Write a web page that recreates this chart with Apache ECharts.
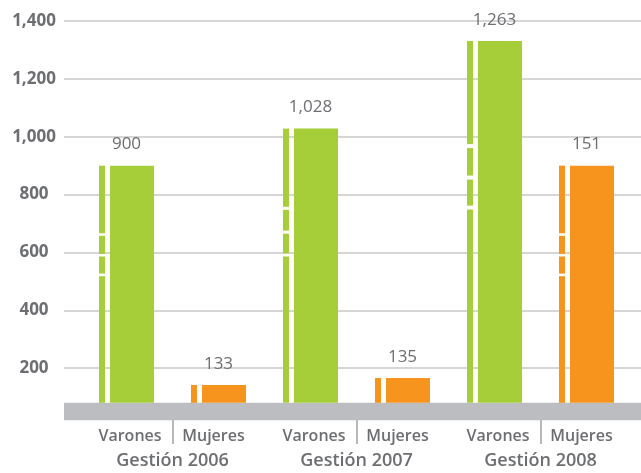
<!DOCTYPE html>
<html>
<head>
<meta charset="utf-8">
<script src="https://cdn.jsdelivr.net/npm/echarts@6/dist/echarts.min.js"></script>
<style>
  html, body { margin: 0; padding: 0; background: #fff; }
  #chart { width: 641px; height: 473px; }
</style>
</head>
<body>
<div id="chart"></div>
<script>
// categories
var sexos = ['Varones', 'Mujeres', 'Varones', 'Mujeres', 'Varones', 'Mujeres'];
var gestiones = ['Gestión 2006', 'Gestión 2007', 'Gestión 2008'];
// bar heights as drawn on the scale
var alturas = [900, 142, 1028, 166, 1331, 900];
// numbers printed above the bars
var etiquetas = ['900', '133', '1,028', '135', '1,263', '151'];
// y ticks
var yMin = 0, yMax = 1400, yStep = 200;
// grey base band (y values)
var banda = [20, 80];

var verde = '#a6ce39', naranja = '#f7941e', gris = '#6d6e71';
var fuente = '"Open Sans", "Liberation Sans", sans-serif';

var datos = alturas.map(function (v, i) {
  return [i, v, i % 2];
});

var chart = echarts.init(document.getElementById('chart'));

function dibujarBarra(params, api) {
  var idx = api.value(0);
  var top = api.coord([idx, api.value(1)]);
  var base = api.coord([idx, banda[1]]);
  var cx = top[0];
  var color = api.value(2) === 0 ? verde : naranja;
  var h = base[1] - top[1];
  var hijos = [];
  // main bar
  hijos.push({
    type: 'rect',
    shape: { x: cx - 16.5, y: top[1], width: 44, height: h },
    style: { fill: color }
  });
  // thin strip on the left, broken by small white gaps on tall bars
  var cortes = h > 100 ? [0.285, 0.372, 0.455] : [];
  var hueco = Math.max(2, h * 0.011);
  var y0 = top[1];
  cortes.forEach(function (f) {
    var yc = top[1] + h * f;
    hijos.push({
      type: 'rect',
      shape: { x: cx - 27.5, y: y0, width: 6, height: yc - y0 },
      style: { fill: color }
    });
    y0 = yc + hueco;
  });
  hijos.push({
    type: 'rect',
    shape: { x: cx - 27.5, y: y0, width: 6, height: base[1] - y0 },
    style: { fill: color }
  });
  // value label
  hijos.push({
    type: 'text',
    x: cx,
    y: top[1] - 21,
    style: {
      text: etiquetas[idx],
      fill: gris,
      font: '500 17px ' + fuente,
      align: 'center',
      verticalAlign: 'middle'
    }
  });
  return { type: 'group', children: hijos };
}

var option = {
  animation: false,
  backgroundColor: '#fff',
  grid: [
    { left: 64, right: 0, top: 21, bottom: 47 },
    { left: 80.5, right: 8.5, top: 21, bottom: 47 }
  ],
  xAxis: [
    { gridIndex: 0, type: 'value', min: 0, max: 1, show: false },
    {
      gridIndex: 1,
      type: 'category',
      data: sexos,
      position: 'bottom',
      axisLine: { show: false },
      axisTick: { show: false },
      axisLabel: {
        margin: 2,
        interval: 0,
        formatter: function (v) {
          return v === 'Varones' ? '{v|' + v + '}' : '{m|' + v + '}';
        },
        rich: {
          v: { color: gris, fontSize: 16, fontWeight: 600, fontFamily: fuente, padding: [0, 0, 0, 7] },
          m: { color: gris, fontSize: 16, fontWeight: 600, fontFamily: fuente, padding: [0, 10, 0, 0] }
        }
      }
    },
    {
      gridIndex: 1,
      type: 'category',
      data: gestiones,
      position: 'bottom',
      offset: -6,
      axisLine: { show: false },
      axisTick: {
        show: true,
        alignWithLabel: true,
        length: 24,
        lineStyle: { color: '#b8b9bb', width: 2 }
      },
      axisLabel: {
        margin: 32,
        color: gris,
        fontSize: 18,
        fontWeight: 600,
        fontFamily: fuente
      }
    }
  ],
  yAxis: [
    {
      gridIndex: 0,
      type: 'value',
      min: yMin,
      max: yMax,
      interval: yStep,
      axisLine: { show: false },
      axisTick: { show: false },
      axisLabel: {
        showMinLabel: false,
        align: 'center',
        margin: 30,
        color: gris,
        fontSize: 17,
        fontWeight: 'bold',
        fontFamily: fuente,
        formatter: function (v) { return v.toLocaleString('en-US'); }
      },
      splitLine: { showMinLine: false, lineStyle: { color: '#c8c8c8', width: 1.5 } }
    },
    {
      gridIndex: 1,
      type: 'value',
      min: yMin,
      max: yMax,
      interval: yStep,
      show: false,
      splitLine: { show: false }
    }
  ],
  series: [
    {
      type: 'line',
      xAxisIndex: 0,
      yAxisIndex: 0,
      data: [[0, 0]],
      showSymbol: false,
      lineStyle: { opacity: 0 },
      silent: true,
      markArea: {
        silent: true,
        itemStyle: { color: '#bcbdc1' },
        data: [[{ yAxis: banda[0] }, { yAxis: banda[1] }]]
      }
    },
    {
      type: 'custom',
      xAxisIndex: 1,
      yAxisIndex: 1,
      data: datos,
      renderItem: dibujarBarra,
      z: 3
    }
  ]
};

chart.setOption(option);
</script>
</body>
</html>
